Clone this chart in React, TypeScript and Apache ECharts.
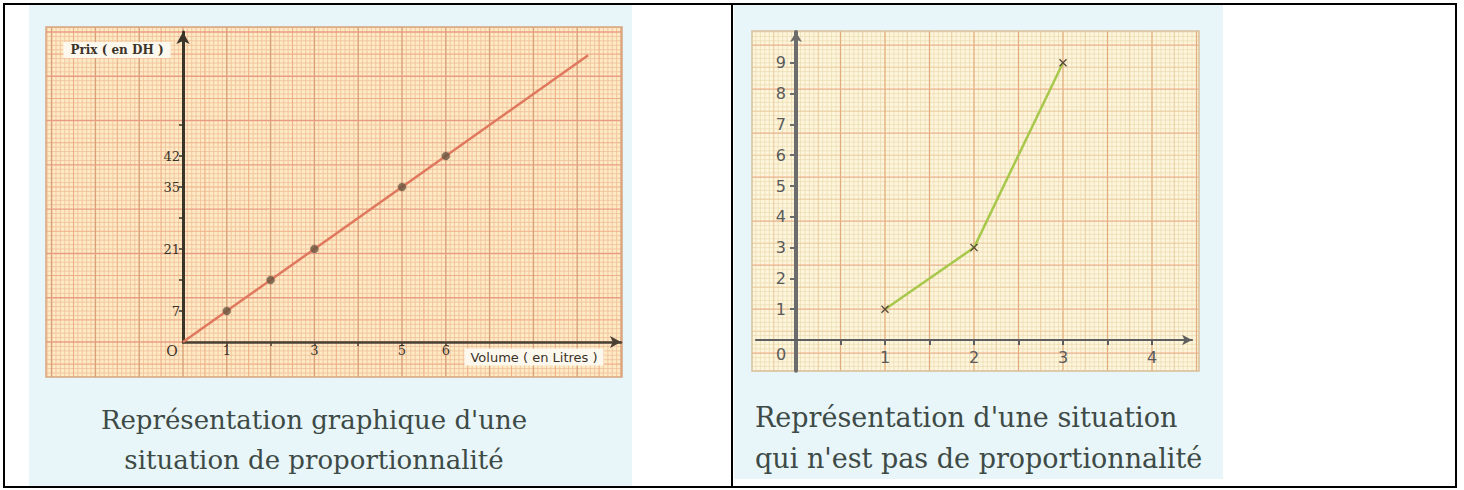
import React, { useEffect, useRef } from "react";
import * as echarts from "echarts";

// ---------- data: left chart (proportionnalité) ----------
const volumeTickValues = [1, 2, 3, 4, 5, 6];
const volumeLabelValues = [1, 3, 5, 6];
const priceTickValues = [7, 14, 21, 28, 35, 42, 49];
const priceLabelValues = [7, 21, 35, 42];
const pointVolumes = [1, 2, 3, 5, 6];
const pointPrices = [7, 14, 21, 35, 42];
const lineVolumes = [0, 9.25];
const linePrices = [0, 64.75];

// ---------- data: right chart (non proportionnalité) ----------
const rightX = [1, 2, 3];
const rightY = [1, 3, 9];
const rightXTickValues = [0.5, 1, 1.5, 2, 2.5, 3, 3.5, 4];
const rightXLabelValues = [1, 2, 3, 4];
const rightYTickValues = [1, 2, 3, 4, 5, 6, 7, 8, 9];
const rightYLabelValues = [1, 2, 3, 4, 5, 6, 7, 8, 9];

// ---------- texts ----------
const leftYName = "Prix ( en DH )";
const leftXName = "Volume ( en Litres )";
const leftCaption = ["Représentation graphique d'une", "situation de proportionnalité"];
const rightCaption = ["Représentation d'une situation", "qui n'est pas de proportionnalité"];

// ---------- layout ----------
const LG = { left: 183, top: 32, width: 438, height: 310, xMax: 10, yMax: 70 };
const RG = { xMin: -0.45, xMax: 4.45, yMin: -1, yMax: 10, ox: 796, oy: 340, ux: 89, uy: 30.8 };

type Lvl = { color: string; width: number };

function paper(
  x0: number, y0: number, x1: number, y1: number,
  ox: number, oy: number, hx: number, hy: number,
  fine: Lvl, mid: Lvl, majV: Lvl, majH: Lvl
) {
  const out: any[] = [];
  const lvl = (k: number, maj: Lvl) => (k % 10 === 0 ? [maj, -6] : k % 5 === 0 ? [mid, -7] : [fine, -8]);
  for (let k = Math.ceil((x0 - ox) / hx); k <= Math.floor((x1 - ox) / hx); k++) {
    const x = ox + k * hx;
    const [s, z] = lvl(Math.abs(k), majV) as [Lvl, number];
    out.push({ type: "line", z, silent: true, shape: { x1: x, y1: y0, x2: x, y2: y1 }, style: { stroke: s.color, lineWidth: s.width } });
  }
  for (let k = Math.ceil((y0 - oy) / hy); k <= Math.floor((y1 - oy) / hy); k++) {
    const y = oy + k * hy;
    const [s, z] = lvl(Math.abs(k), majH) as [Lvl, number];
    out.push({ type: "line", z, silent: true, shape: { x1: x0, y1: y, x2: x1, y2: y }, style: { stroke: s.color, lineWidth: s.width } });
  }
  return out;
}

const captionColor = "#3e4a46";
const captionFont = "DejaVu Serif";

export default function App() {
  const ref = useRef<HTMLDivElement>(null);
  useEffect(() => {
    if (!ref.current) return;
    const chart = echarts.init(ref.current, undefined, { renderer: "svg" });

    const rLeft = RG.ox + RG.xMin * RG.ux;
    const rWidth = (RG.xMax - RG.xMin) * RG.ux;
    const rTop = RG.oy - RG.yMax * RG.uy;
    const rHeight = (RG.yMax - RG.yMin) * RG.uy;

    const graphics: any[] = [
      // blue picture backgrounds
      { type: "rect", z: -20, silent: true, shape: { x: 29, y: 5, width: 603, height: 482 }, style: { fill: "#e8f6f9" } },
      { type: "rect", z: -20, silent: true, shape: { x: 734, y: 5, width: 489, height: 474 }, style: { fill: "#e8f6f9" } },
      // paper backgrounds
      { type: "rect", z: -10, silent: true, shape: { x: 46, y: 27, width: 576, height: 350 }, style: { fill: "#fdebc6" } },
      { type: "rect", z: -10, silent: true, shape: { x: 752, y: 31, width: 447, height: 340 }, style: { fill: "#fdf6dc" } },
      ...paper(46, 27, 622, 377, 183, 342, LG.width / LG.xMax / 10, LG.height / LG.yMax,
        { color: "#f2c29c", width: 0.9 }, { color: "#eeae88", width: 1.1 },
        { color: "#d9a07a", width: 1.4 }, { color: "#ea9c82", width: 1.4 }),
      ...paper(752, 31, 1199, 371, RG.ox, RG.oy - RG.uy, RG.ux / 20, RG.uy / 7,
        { color: "#ecdcb4", width: 0.8 }, { color: "#e6c99c", width: 1 },
        { color: "#e2ad7c", width: 1.3 }, { color: "#eab08a", width: 1.3 }),
      { type: "rect", z: -5, silent: true, shape: { x: 46, y: 27, width: 576, height: 350 }, style: { fill: "none", stroke: "#d8a57e", lineWidth: 1.5 } },
      { type: "rect", z: -5, silent: true, shape: { x: 752, y: 31, width: 447, height: 340 }, style: { fill: "none", stroke: "#d9c09a", lineWidth: 1.5 } },
      // table borders
      { type: "rect", z: 60, silent: true, shape: { x: 4, y: 4, width: 1452, height: 483 }, style: { fill: "none", stroke: "#000", lineWidth: 2 } },
      { type: "line", z: 60, silent: true, shape: { x1: 732, y1: 4, x2: 732, y2: 487 }, style: { stroke: "#000", lineWidth: 2 } },
      // axis names / origin labels
      { type: "text", z: 40, x: 117, y: 50, style: { text: leftYName, fill: "#3b3228", fontFamily: captionFont, fontSize: 12, fontWeight: "bold", align: "center", verticalAlign: "middle", backgroundColor: "#fdf8ee", padding: [2, 7] } },
      { type: "text", z: 40, x: 534, y: 357, style: { text: leftXName, fill: "#3b3228", fontFamily: "DejaVu Sans", fontSize: 13, align: "center", verticalAlign: "middle", backgroundColor: "#fdf8ee", padding: [2, 6] } },
      { type: "text", z: 40, x: 172, y: 351, style: { text: "O", fill: "#3b3228", fontFamily: captionFont, fontSize: 14, align: "center", verticalAlign: "middle" } },
      { type: "text", z: 40, x: 781, y: 354, style: { text: "0", fill: "#5a5a5a", fontFamily: "DejaVu Sans", fontSize: 16, align: "center", verticalAlign: "middle" } },
      // captions
      { type: "text", z: 40, x: 314, y: 420, style: { text: leftCaption[0], fill: captionColor, fontFamily: captionFont, fontSize: 26, align: "center", verticalAlign: "middle" } },
      { type: "text", z: 40, x: 314, y: 460, style: { text: leftCaption[1], fill: captionColor, fontFamily: captionFont, fontSize: 26, align: "center", verticalAlign: "middle" } },
      { type: "text", z: 40, x: 755, y: 417, style: { text: rightCaption[0], fill: captionColor, fontFamily: captionFont, fontSize: 27, align: "left", verticalAlign: "middle" } },
      { type: "text", z: 40, x: 755, y: 458, style: { text: rightCaption[1], fill: captionColor, fontFamily: captionFont, fontSize: 27, align: "left", verticalAlign: "middle" } },
    ];

    const xMark = "path://M0,1.2L1.2,0L5,3.8L8.8,0L10,1.2L6.2,5L10,8.8L8.8,10L5,6.2L1.2,10L0,8.8L3.8,5Z";

    chart.setOption({
      animation: false,
      grid: [
        { left: LG.left, top: LG.top, width: LG.width, height: LG.height, containLabel: false },
        { left: rLeft, top: rTop, width: rWidth, height: rHeight, containLabel: false },
      ],
      xAxis: [
        {
          type: "value", gridIndex: 0, min: 0, max: LG.xMax, z: 10,
          splitLine: { show: false },
          axisLine: { show: true, symbol: ["none", "arrow"], symbolSize: [9, 11], lineStyle: { color: "#4a4034", width: 2.5 } },
          axisTick: { show: true, customValues: volumeTickValues, length: 4, lineStyle: { color: "#4a4034", width: 1.5 } },
          axisLabel: { show: true, customValues: volumeLabelValues, margin: 2, color: "#3b3228", fontFamily: captionFont, fontSize: 13 },
        },
        {
          type: "value", gridIndex: 1, min: RG.xMin, max: RG.xMax, z: 10,
          position: "bottom", offset: RG.yMin * RG.uy,
          splitLine: { show: false },
          axisLine: { show: true, onZero: false, symbol: ["none", "arrow"], symbolSize: [8, 10], lineStyle: { color: "#5e5e5e", width: 2 } },
          axisTick: { show: true, customValues: rightXTickValues, inside: false, length: 5, lineStyle: { color: "#5e5e5e", width: 2 } },
          axisLabel: { show: true, customValues: rightXLabelValues, margin: 9, color: "#5a5a5a", fontFamily: "DejaVu Sans", fontSize: 16 },
        },
      ],
      yAxis: [
        {
          type: "value", gridIndex: 0, min: 0, max: LG.yMax, z: 10,
          splitLine: { show: false },
          axisLine: { show: true, symbol: ["none", "arrow"], symbolSize: [10, 12], lineStyle: { color: "#3b3428", width: 3 } },
          axisTick: { show: true, customValues: priceTickValues, length: 4, lineStyle: { color: "#3b3428", width: 1.5 } },
          axisLabel: { show: true, customValues: priceLabelValues, margin: 3, color: "#3b3228", fontFamily: captionFont, fontSize: 13 },
        },
        {
          type: "value", gridIndex: 1, min: RG.yMin, max: RG.yMax, z: 10,
          position: "left", offset: RG.xMin * RG.ux,
          splitLine: { show: false },
          axisLine: { show: true, onZero: false, symbol: ["none", "arrow"], symbolSize: [9, 10], lineStyle: { color: "#6c6c6c", width: 4 } },
          axisTick: { show: true, customValues: rightYTickValues, length: 6, lineStyle: { color: "#6c6c6c", width: 2 } },
          axisLabel: { show: true, customValues: rightYLabelValues, margin: 10, color: "#5a5a5a", fontFamily: "DejaVu Sans", fontSize: 16 },
        },
      ],
      graphic: { elements: graphics },
      series: [
        {
          type: "line", xAxisIndex: 0, yAxisIndex: 0, z: 12, silent: true,
          data: lineVolumes.map((v, i) => [v, linePrices[i]]),
          showSymbol: false, lineStyle: { color: "#e0785e", width: 2.5 },
        },
        {
          type: "scatter", xAxisIndex: 0, yAxisIndex: 0, z: 13, silent: true,
          data: pointVolumes.map((v, i) => [v, pointPrices[i]]),
          symbol: "circle", symbolSize: 8, itemStyle: { color: "#66543f", borderColor: "#8a6a55", borderWidth: 0.5 },
        },
        {
          type: "line", xAxisIndex: 1, yAxisIndex: 1, z: 12, silent: true,
          data: rightX.map((v, i) => [v, rightY[i]]),
          symbol: xMark, symbolSize: 8, showSymbol: true,
          lineStyle: { color: "#a8c84c", width: 2.5 },
          itemStyle: { color: "#5b4a3a" },
        },
      ],
    });
    return () => chart.dispose();
  }, []);

  return <div ref={ref} style={{ position: "absolute", left: 0, top: 0, width: 1464, height: 490 }} />;
}
